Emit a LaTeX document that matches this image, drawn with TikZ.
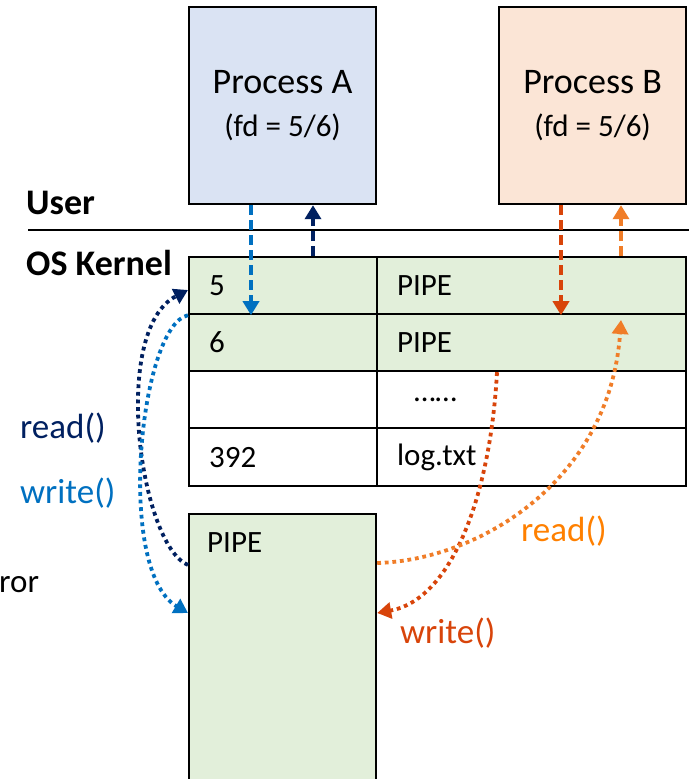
\documentclass[tikz,border=0pt]{standalone}
\usepackage{fontspec}
\setmainfont{Carlito}
\usepackage{tikz}
\usetikzlibrary{arrows.meta}
\definecolor{procblue}{RGB}{218,227,243}
\definecolor{procpeach}{RGB}{251,229,214}
\definecolor{tablegreen}{RGB}{226,239,218}
\definecolor{navyread}{RGB}{0,32,96}
\definecolor{bluewrite}{RGB}{0,112,192}
\definecolor{redwrite}{RGB}{216,68,10}
\definecolor{orangeread}{RGB}{240,125,40}
\definecolor{orangetext}{RGB}{255,128,0}
\tikzset{
  base/.style={font=\fontsize{31}{34}\selectfont, inner sep=0pt, text=black},
  proc/.style={base, rectangle, draw=black, line width=2.2pt, anchor=north west, align=center,
    minimum width=187pt, minimum height=197pt},
  cell/.style={base, rectangle, draw=black, line width=2.2pt, anchor=north west, align=left,
    inner xsep=20pt, minimum height=57pt},
  lcell/.style={cell, text width=148pt},
  rcell/.style={cell, text width=269pt},
  side/.style={base, anchor=west, font=\fontsize{36}{38}\selectfont\bfseries},
  call/.style={base, anchor=west, font=\fontsize{35}{38}\selectfont},
  tip/.style={-{Triangle[length=14pt,width=16pt]}},
  arrdash/.style={tip, line width=3.6pt, dash pattern=on 10pt off 5pt},
  arrdot/.style={tip, line width=3.8pt, dash pattern=on 3.8pt off 3.8pt},
}
\begin{document}
\begin{tikzpicture}[x={(1pt,0)}, y={(0,-1pt)}]
  \useasboundingbox (0,0) rectangle (689,779);
  % processes
  \node[proc,fill=procblue] (pA) at (188,6) {\fontsize{36}{44}\selectfont Process A\\[9pt]\fontsize{31}{34}\selectfont(fd = 5/6)};
  \node[proc,fill=procpeach] (pB) at (498,6) {\fontsize{36}{44}\selectfont Process B\\[9pt]\fontsize{31}{34}\selectfont(fd = 5/6)};
  % user / kernel split
  \node[side] (user) at (26,203) {User};
  \coordinate (splitL) at (28,230);
  \coordinate (splitR) at (689,230);
  \draw[line width=2.2pt] (splitL) -- (splitR);
  \node[side] (kernel) at (26,263) {OS Kernel};
  % fd table
  \node[lcell,fill=tablegreen] (c5) at (188,256) {5};
  \node[rcell,fill=tablegreen] (p5) at (376,256) {PIPE};
  \node[lcell,fill=tablegreen] (c6) at (188,313) {6};
  \node[rcell,fill=tablegreen] (p6) at (376,313) {PIPE};
  \node[lcell] (cdots) at (188,370) {};
  \node[rcell] (pdots) at (376,370) {\hspace{17pt}……};
  \node[lcell,minimum height=58pt] (c392) at (188,427) {392};
  \node[rcell,minimum height=58pt] (plog) at (376,427) {log.txt};
  % pipe buffer
  \node[base,draw=black,line width=2.2pt,fill=tablegreen,anchor=north west,minimum width=187pt,minimum height=290pt] (pipe) at (188,513) {};
  \node[base,anchor=west] (pipetxt) at (207,543) {PIPE};
  \node[base,anchor=west,font=\fontsize{33}{36}\selectfont] (ror) at (-1,585) {ror};
  % syscalls between process and table
  \draw[arrdash,bluewrite] ([xshift=63pt]pA.south west) -- ([xshift=63pt]c5.south west);
  \draw[arrdash,navyread] ([xshift=125pt]c5.north west) -- ([xshift=125pt]pA.south west);
  \draw[arrdash,redwrite] ([xshift=63pt]pB.south west) -- ([xshift=185pt]p5.south west);
  \draw[arrdash,orangeread] ([xshift=245pt]p5.north west) -- ([xshift=123pt]pB.south west);
  % table to pipe
  \draw[arrdot,navyread] ([yshift=-52pt]pipe.north west) .. controls (140,545) and (110,330) .. ([yshift=-34pt]c5.north west);
  \draw[arrdot,bluewrite] (c5.south west) .. controls (140,325) and (115,570) .. ([yshift=-100pt]pipe.north west);
  \draw[arrdot,redwrite] ([xshift=121pt]p6.south west) .. controls (490,500) and (450,600) .. ([yshift=-100pt]pipe.north east);
  \draw[arrdot,orangeread] ([yshift=-50pt]pipe.north east) .. controls (480,560) and (610,480) .. ([xshift=245pt,yshift=-7pt]p6.north west);
  \node[call,text=navyread] (readA) at (20,428) {read()};
  \node[call,text=bluewrite] (writeA) at (20,493) {write()};
  \node[call,text=orangetext] (readB) at (521,531) {read()};
  \node[call,text=redwrite] (writeB) at (400,633) {write()};
\end{tikzpicture}
\end{document}
